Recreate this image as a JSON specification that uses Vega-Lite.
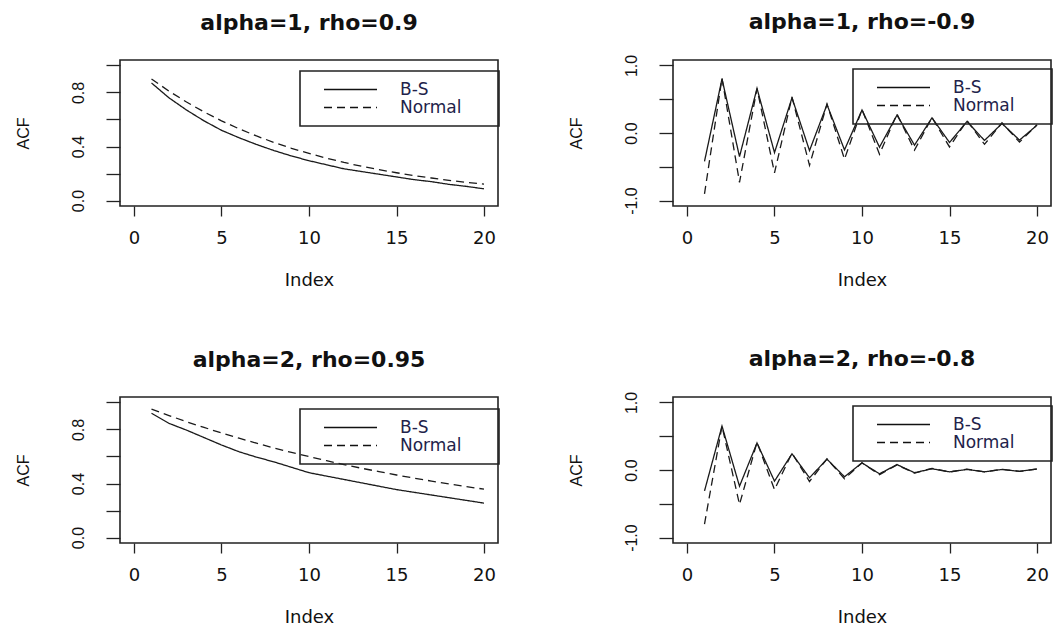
{
  "$schema": "https://vega.github.io/schema/vega-lite/v6.json",
  "padding": {"left": 14, "top": 10, "right": 0, "bottom": 0},
  "background": "white",
  "datasets": {
    "acf": [
      {"panel": "A", "series": "B-S", "lag": 1, "acf": 0.87}, {"panel": "A", "series": "B-S", "lag": 2, "acf": 0.76},
      {"panel": "A", "series": "B-S", "lag": 3, "acf": 0.67}, {"panel": "A", "series": "B-S", "lag": 4, "acf": 0.59},
      {"panel": "A", "series": "B-S", "lag": 5, "acf": 0.52}, {"panel": "A", "series": "B-S", "lag": 6, "acf": 0.465},
      {"panel": "A", "series": "B-S", "lag": 7, "acf": 0.415}, {"panel": "A", "series": "B-S", "lag": 8, "acf": 0.37},
      {"panel": "A", "series": "B-S", "lag": 9, "acf": 0.33}, {"panel": "A", "series": "B-S", "lag": 10, "acf": 0.295},
      {"panel": "A", "series": "B-S", "lag": 11, "acf": 0.265}, {"panel": "A", "series": "B-S", "lag": 12, "acf": 0.235},
      {"panel": "A", "series": "B-S", "lag": 13, "acf": 0.215}, {"panel": "A", "series": "B-S", "lag": 14, "acf": 0.195},
      {"panel": "A", "series": "B-S", "lag": 15, "acf": 0.175}, {"panel": "A", "series": "B-S", "lag": 16, "acf": 0.155},
      {"panel": "A", "series": "B-S", "lag": 17, "acf": 0.14}, {"panel": "A", "series": "B-S", "lag": 18, "acf": 0.12},
      {"panel": "A", "series": "B-S", "lag": 19, "acf": 0.105}, {"panel": "A", "series": "B-S", "lag": 20, "acf": 0.087},
      {"panel": "A", "series": "Normal", "lag": 1, "acf": 0.9}, {"panel": "A", "series": "Normal", "lag": 2, "acf": 0.81},
      {"panel": "A", "series": "Normal", "lag": 3, "acf": 0.729}, {"panel": "A", "series": "Normal", "lag": 4, "acf": 0.656},
      {"panel": "A", "series": "Normal", "lag": 5, "acf": 0.59}, {"panel": "A", "series": "Normal", "lag": 6, "acf": 0.531},
      {"panel": "A", "series": "Normal", "lag": 7, "acf": 0.478}, {"panel": "A", "series": "Normal", "lag": 8, "acf": 0.43},
      {"panel": "A", "series": "Normal", "lag": 9, "acf": 0.387}, {"panel": "A", "series": "Normal", "lag": 10, "acf": 0.349},
      {"panel": "A", "series": "Normal", "lag": 11, "acf": 0.314}, {"panel": "A", "series": "Normal", "lag": 12, "acf": 0.282},
      {"panel": "A", "series": "Normal", "lag": 13, "acf": 0.254}, {"panel": "A", "series": "Normal", "lag": 14, "acf": 0.229},
      {"panel": "A", "series": "Normal", "lag": 15, "acf": 0.206}, {"panel": "A", "series": "Normal", "lag": 16, "acf": 0.185},
      {"panel": "A", "series": "Normal", "lag": 17, "acf": 0.167}, {"panel": "A", "series": "Normal", "lag": 18, "acf": 0.15},
      {"panel": "A", "series": "Normal", "lag": 19, "acf": 0.135}, {"panel": "A", "series": "Normal", "lag": 20, "acf": 0.122},

      {"panel": "B", "series": "B-S", "lag": 1, "acf": -0.42}, {"panel": "B", "series": "B-S", "lag": 2, "acf": 0.8},
      {"panel": "B", "series": "B-S", "lag": 3, "acf": -0.35}, {"panel": "B", "series": "B-S", "lag": 4, "acf": 0.66},
      {"panel": "B", "series": "B-S", "lag": 5, "acf": -0.29}, {"panel": "B", "series": "B-S", "lag": 6, "acf": 0.52},
      {"panel": "B", "series": "B-S", "lag": 7, "acf": -0.26}, {"panel": "B", "series": "B-S", "lag": 8, "acf": 0.42},
      {"panel": "B", "series": "B-S", "lag": 9, "acf": -0.25}, {"panel": "B", "series": "B-S", "lag": 10, "acf": 0.34},
      {"panel": "B", "series": "B-S", "lag": 11, "acf": -0.21}, {"panel": "B", "series": "B-S", "lag": 12, "acf": 0.265},
      {"panel": "B", "series": "B-S", "lag": 13, "acf": -0.18}, {"panel": "B", "series": "B-S", "lag": 14, "acf": 0.225},
      {"panel": "B", "series": "B-S", "lag": 15, "acf": -0.14}, {"panel": "B", "series": "B-S", "lag": 16, "acf": 0.17},
      {"panel": "B", "series": "B-S", "lag": 17, "acf": -0.11}, {"panel": "B", "series": "B-S", "lag": 18, "acf": 0.14},
      {"panel": "B", "series": "B-S", "lag": 19, "acf": -0.105}, {"panel": "B", "series": "B-S", "lag": 20, "acf": 0.115},
      {"panel": "B", "series": "Normal", "lag": 1, "acf": -0.9}, {"panel": "B", "series": "Normal", "lag": 2, "acf": 0.81},
      {"panel": "B", "series": "Normal", "lag": 3, "acf": -0.729}, {"panel": "B", "series": "Normal", "lag": 4, "acf": 0.656},
      {"panel": "B", "series": "Normal", "lag": 5, "acf": -0.59}, {"panel": "B", "series": "Normal", "lag": 6, "acf": 0.531},
      {"panel": "B", "series": "Normal", "lag": 7, "acf": -0.478}, {"panel": "B", "series": "Normal", "lag": 8, "acf": 0.43},
      {"panel": "B", "series": "Normal", "lag": 9, "acf": -0.387}, {"panel": "B", "series": "Normal", "lag": 10, "acf": 0.349},
      {"panel": "B", "series": "Normal", "lag": 11, "acf": -0.314}, {"panel": "B", "series": "Normal", "lag": 12, "acf": 0.282},
      {"panel": "B", "series": "Normal", "lag": 13, "acf": -0.254}, {"panel": "B", "series": "Normal", "lag": 14, "acf": 0.229},
      {"panel": "B", "series": "Normal", "lag": 15, "acf": -0.206}, {"panel": "B", "series": "Normal", "lag": 16, "acf": 0.185},
      {"panel": "B", "series": "Normal", "lag": 17, "acf": -0.167}, {"panel": "B", "series": "Normal", "lag": 18, "acf": 0.15},
      {"panel": "B", "series": "Normal", "lag": 19, "acf": -0.135}, {"panel": "B", "series": "Normal", "lag": 20, "acf": 0.122},

      {"panel": "C", "series": "B-S", "lag": 1, "acf": 0.92}, {"panel": "C", "series": "B-S", "lag": 2, "acf": 0.845},
      {"panel": "C", "series": "B-S", "lag": 3, "acf": 0.795}, {"panel": "C", "series": "B-S", "lag": 4, "acf": 0.74},
      {"panel": "C", "series": "B-S", "lag": 5, "acf": 0.685}, {"panel": "C", "series": "B-S", "lag": 6, "acf": 0.635},
      {"panel": "C", "series": "B-S", "lag": 7, "acf": 0.595}, {"panel": "C", "series": "B-S", "lag": 8, "acf": 0.56},
      {"panel": "C", "series": "B-S", "lag": 9, "acf": 0.52}, {"panel": "C", "series": "B-S", "lag": 10, "acf": 0.48},
      {"panel": "C", "series": "B-S", "lag": 11, "acf": 0.455}, {"panel": "C", "series": "B-S", "lag": 12, "acf": 0.43},
      {"panel": "C", "series": "B-S", "lag": 13, "acf": 0.405}, {"panel": "C", "series": "B-S", "lag": 14, "acf": 0.38},
      {"panel": "C", "series": "B-S", "lag": 15, "acf": 0.355}, {"panel": "C", "series": "B-S", "lag": 16, "acf": 0.335},
      {"panel": "C", "series": "B-S", "lag": 17, "acf": 0.315}, {"panel": "C", "series": "B-S", "lag": 18, "acf": 0.295},
      {"panel": "C", "series": "B-S", "lag": 19, "acf": 0.275}, {"panel": "C", "series": "B-S", "lag": 20, "acf": 0.255},
      {"panel": "C", "series": "Normal", "lag": 1, "acf": 0.95}, {"panel": "C", "series": "Normal", "lag": 2, "acf": 0.903},
      {"panel": "C", "series": "Normal", "lag": 3, "acf": 0.857}, {"panel": "C", "series": "Normal", "lag": 4, "acf": 0.815},
      {"panel": "C", "series": "Normal", "lag": 5, "acf": 0.774}, {"panel": "C", "series": "Normal", "lag": 6, "acf": 0.735},
      {"panel": "C", "series": "Normal", "lag": 7, "acf": 0.698}, {"panel": "C", "series": "Normal", "lag": 8, "acf": 0.663},
      {"panel": "C", "series": "Normal", "lag": 9, "acf": 0.63}, {"panel": "C", "series": "Normal", "lag": 10, "acf": 0.599},
      {"panel": "C", "series": "Normal", "lag": 11, "acf": 0.569}, {"panel": "C", "series": "Normal", "lag": 12, "acf": 0.54},
      {"panel": "C", "series": "Normal", "lag": 13, "acf": 0.513}, {"panel": "C", "series": "Normal", "lag": 14, "acf": 0.488},
      {"panel": "C", "series": "Normal", "lag": 15, "acf": 0.463}, {"panel": "C", "series": "Normal", "lag": 16, "acf": 0.44},
      {"panel": "C", "series": "Normal", "lag": 17, "acf": 0.418}, {"panel": "C", "series": "Normal", "lag": 18, "acf": 0.397},
      {"panel": "C", "series": "Normal", "lag": 19, "acf": 0.377}, {"panel": "C", "series": "Normal", "lag": 20, "acf": 0.358},

      {"panel": "D", "series": "B-S", "lag": 1, "acf": -0.31}, {"panel": "D", "series": "B-S", "lag": 2, "acf": 0.65},
      {"panel": "D", "series": "B-S", "lag": 3, "acf": -0.24}, {"panel": "D", "series": "B-S", "lag": 4, "acf": 0.4},
      {"panel": "D", "series": "B-S", "lag": 5, "acf": -0.165}, {"panel": "D", "series": "B-S", "lag": 6, "acf": 0.24},
      {"panel": "D", "series": "B-S", "lag": 7, "acf": -0.115}, {"panel": "D", "series": "B-S", "lag": 8, "acf": 0.16},
      {"panel": "D", "series": "B-S", "lag": 9, "acf": -0.1}, {"panel": "D", "series": "B-S", "lag": 10, "acf": 0.105},
      {"panel": "D", "series": "B-S", "lag": 11, "acf": -0.056}, {"panel": "D", "series": "B-S", "lag": 12, "acf": 0.08},
      {"panel": "D", "series": "B-S", "lag": 13, "acf": -0.04}, {"panel": "D", "series": "B-S", "lag": 14, "acf": 0.018},
      {"panel": "D", "series": "B-S", "lag": 15, "acf": -0.027}, {"panel": "D", "series": "B-S", "lag": 16, "acf": 0.008},
      {"panel": "D", "series": "B-S", "lag": 17, "acf": -0.027}, {"panel": "D", "series": "B-S", "lag": 18, "acf": 0.008},
      {"panel": "D", "series": "B-S", "lag": 19, "acf": -0.02}, {"panel": "D", "series": "B-S", "lag": 20, "acf": 0.015},
      {"panel": "D", "series": "Normal", "lag": 1, "acf": -0.8}, {"panel": "D", "series": "Normal", "lag": 2, "acf": 0.65},
      {"panel": "D", "series": "Normal", "lag": 3, "acf": -0.51}, {"panel": "D", "series": "Normal", "lag": 4, "acf": 0.41},
      {"panel": "D", "series": "Normal", "lag": 5, "acf": -0.29}, {"panel": "D", "series": "Normal", "lag": 6, "acf": 0.25},
      {"panel": "D", "series": "Normal", "lag": 7, "acf": -0.17}, {"panel": "D", "series": "Normal", "lag": 8, "acf": 0.165},
      {"panel": "D", "series": "Normal", "lag": 9, "acf": -0.13}, {"panel": "D", "series": "Normal", "lag": 10, "acf": 0.107},
      {"panel": "D", "series": "Normal", "lag": 11, "acf": -0.07}, {"panel": "D", "series": "Normal", "lag": 12, "acf": 0.075},
      {"panel": "D", "series": "Normal", "lag": 13, "acf": -0.045}, {"panel": "D", "series": "Normal", "lag": 14, "acf": 0.025},
      {"panel": "D", "series": "Normal", "lag": 15, "acf": -0.03}, {"panel": "D", "series": "Normal", "lag": 16, "acf": 0.012},
      {"panel": "D", "series": "Normal", "lag": 17, "acf": -0.027}, {"panel": "D", "series": "Normal", "lag": 18, "acf": 0.01},
      {"panel": "D", "series": "Normal", "lag": 19, "acf": -0.02}, {"panel": "D", "series": "Normal", "lag": 20, "acf": 0.015}
    ]
  },
  "data": {"name": "acf"},
  "columns": 2,
  "spacing": {"row": 191, "column": 175},
  "bounds": "flush",
  "resolve": {
    "scale": {"x": "independent", "y": "independent", "strokeDash": "independent"},
    "legend": {"strokeDash": "independent"}
  },
  "concat": [
    {
      "title": {"text": "alpha=1, rho=0.9", "offset": 25},
      "width": 378, "height": 146,
      "transform": [{"filter": "datum.panel == 'A'"}],
      "mark": {"type": "line"},
      "encoding": {
        "x": {"field": "lag", "type": "quantitative", "scale": {"domain": [-0.8, 20.8], "nice": false, "zero": false},
              "axis": {"title": "Index", "values": [0, 5, 10, 15, 20]}},
        "y": {"field": "acf", "type": "quantitative", "scale": {"domain": [-0.04, 1.04], "nice": false, "zero": false},
              "axis": {"title": "ACF", "values": [0, 0.2, 0.4, 0.6, 0.8, 1], "labelExpr": "datum.value == 0 ? '0.0' : datum.value == 0.4 ? '0.4' : datum.value == 0.8 ? '0.8' : ''"}},
        "strokeDash": {"field": "series", "type": "nominal", "scale": {"domain": ["B-S", "Normal"], "range": [[1, 0], [8, 5]]},
                       "legend": {"title": null, "orient": "none", "legendX": 180, "legendY": 11, "labelExpr": "datum.label + '\u00a0\u00a0\u00a0\u00a0\u00a0\u200b'"}}
      }
    },
    {
      "title": {"text": "alpha=1, rho=-0.9", "offset": 20},
      "width": 378, "height": 146,
      "transform": [{"filter": "datum.panel == 'B'"}],
      "mark": {"type": "line"},
      "encoding": {
        "x": {"field": "lag", "type": "quantitative", "scale": {"domain": [-0.8, 20.8], "nice": false, "zero": false},
              "axis": {"title": "Index", "values": [0, 5, 10, 15, 20]}},
        "y": {"field": "acf", "type": "quantitative", "scale": {"domain": [-1.08, 1.08], "nice": false, "zero": false},
              "axis": {"title": "ACF", "values": [-1, -0.5, 0, 0.5, 1], "labelExpr": "datum.value == 0 ? '0.0' : datum.value == 1 ? '1.0' : datum.value == -1 ? '-1.0' : ''"}},
        "strokeDash": {"field": "series", "type": "nominal", "scale": {"domain": ["B-S", "Normal"], "range": [[1, 0], [8, 5]]},
                       "legend": {"title": null, "orient": "none", "legendX": 180, "legendY": 9, "labelExpr": "datum.label + '\u00a0\u00a0\u00a0\u00a0\u00a0\u200b'"}}
      }
    },
    {
      "title": {"text": "alpha=2, rho=0.95", "offset": 25},
      "width": 378, "height": 146,
      "transform": [{"filter": "datum.panel == 'C'"}],
      "mark": {"type": "line"},
      "encoding": {
        "x": {"field": "lag", "type": "quantitative", "scale": {"domain": [-0.8, 20.8], "nice": false, "zero": false},
              "axis": {"title": "Index", "values": [0, 5, 10, 15, 20]}},
        "y": {"field": "acf", "type": "quantitative", "scale": {"domain": [-0.04, 1.04], "nice": false, "zero": false},
              "axis": {"title": "ACF", "values": [0, 0.2, 0.4, 0.6, 0.8, 1], "labelExpr": "datum.value == 0 ? '0.0' : datum.value == 0.4 ? '0.4' : datum.value == 0.8 ? '0.8' : ''"}},
        "strokeDash": {"field": "series", "type": "nominal", "scale": {"domain": ["B-S", "Normal"], "range": [[1, 0], [8, 5]]},
                       "legend": {"title": null, "orient": "none", "legendX": 180, "legendY": 12, "labelExpr": "datum.label + '\u00a0\u00a0\u00a0\u00a0\u00a0\u200b'"}}
      }
    },
    {
      "title": {"text": "alpha=2, rho=-0.8", "offset": 20},
      "width": 378, "height": 146,
      "transform": [{"filter": "datum.panel == 'D'"}],
      "mark": {"type": "line"},
      "encoding": {
        "x": {"field": "lag", "type": "quantitative", "scale": {"domain": [-0.8, 20.8], "nice": false, "zero": false},
              "axis": {"title": "Index", "values": [0, 5, 10, 15, 20]}},
        "y": {"field": "acf", "type": "quantitative", "scale": {"domain": [-1.08, 1.08], "nice": false, "zero": false},
              "axis": {"title": "ACF", "values": [-1, -0.5, 0, 0.5, 1], "labelExpr": "datum.value == 0 ? '0.0' : datum.value == 1 ? '1.0' : datum.value == -1 ? '-1.0' : ''"}},
        "strokeDash": {"field": "series", "type": "nominal", "scale": {"domain": ["B-S", "Normal"], "range": [[1, 0], [8, 5]]},
                       "legend": {"title": null, "orient": "none", "legendX": 180, "legendY": 9, "labelExpr": "datum.label + '\u00a0\u00a0\u00a0\u00a0\u00a0\u200b'"}}
      }
    }
  ],
  "config": {
    "font": "DejaVu Sans",
    "view": {"stroke": "#222222", "strokeWidth": 1.6},
    "line": {"color": "#1a1a1a", "strokeWidth": 1.3},
    "axis": {"domain": false, "grid": false, "tickColor": "#222222", "tickWidth": 1.3, "labelColor": "#111111", "titleColor": "#111111", "titleFontWeight": "normal", "labelOverlap": false, "labelFlush": false},
    "axisX": {"tickSize": 10, "labelFont": "DejaVu Sans", "labelFontSize": 18, "labelPadding": 13.5, "titleFont": "DejaVu Sans", "titleFontSize": 18, "titlePadding": 23.5},
    "axisY": {"tickSize": 14, "labelFont": "Liberation Sans", "labelFontSize": 16, "labelAngle": -90, "labelPadding": 20, "titleFont": "Liberation Sans", "titleFontSize": 16, "titlePadding": 39},
    "legend": {"strokeColor": "#222222", "strokeWidth": 1.6, "padding": 10, "symbolType": "stroke", "symbolSize": 2809, "symbolStrokeWidth": 1.3, "symbolStrokeColor": "#111111", "labelFont": "DejaVu Sans", "labelFontSize": 17, "labelColor": "#22224a", "symbolOffset": 13, "labelOffset": 22, "clipHeight": 17, "rowPadding": 0},
    "title": {"font": "DejaVu Sans", "fontSize": 22, "fontWeight": "bold", "color": "#111111", "anchor": "middle", "frame": "group", "baseline": "alphabetic"}
  }
}
